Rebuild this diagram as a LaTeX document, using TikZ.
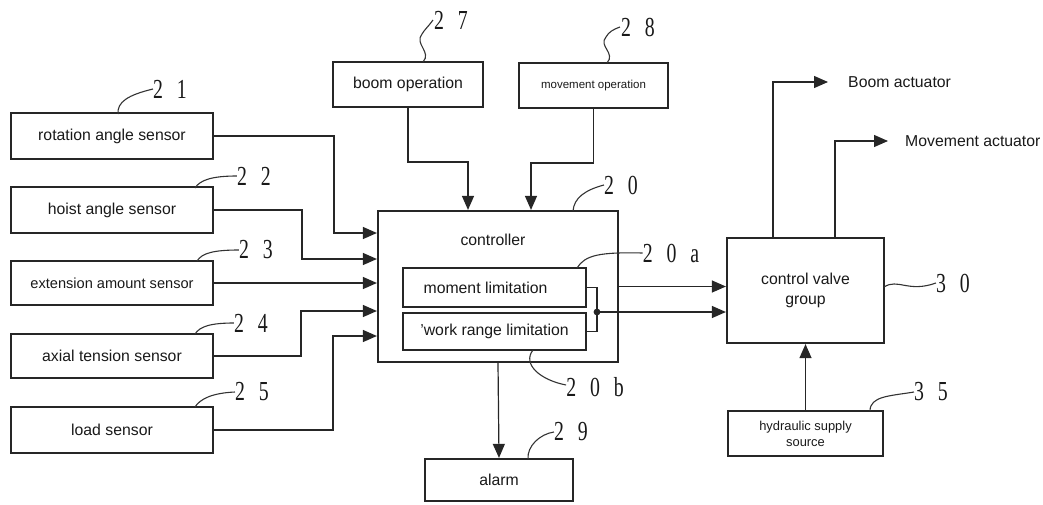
\documentclass[tikz,border=0pt]{standalone}
\usepackage{fontspec}
\setmainfont{Liberation Sans}
\newfontfamily\numfont{Liberation Serif}
\usetikzlibrary{arrows.meta}
\newcommand{\rn}[1]{\scalebox{0.72}[1]{#1}}
\tikzset{
  box/.style={draw=black!85, line width=2.2pt, inner sep=0pt, text=black!90,
    font=\fontsize{15.8}{18}\selectfont, align=center},
  inbox/.style={draw=black!85, line width=1.2pt, inner sep=0pt, text=black!90,
    font=\fontsize{15.8}{18}\selectfont},
  lab/.style={inner sep=0pt, text=black!90, font=\numfont\fontsize{27.5}{27.5}\selectfont},
  conn/.style={draw=black!85, line width=1.2pt},
  arr/.style={conn, -{Triangle[length=14pt,width=12pt]}},
  lead/.style={draw=black!80, line width=1.1pt},
  plain/.style={inner sep=0pt, text=black!90, font=\fontsize{15.8}{18}\selectfont}
}
\begin{document}
\begin{tikzpicture}[x=1pt,y=-1pt]
\useasboundingbox (0,0) rectangle (1043,504);
% sensors
\node[box, minimum width=202, minimum height=46] (s21) at (112,136) {rotation angle sensor};
\node[box, minimum width=202, minimum height=46] (s22) at (112,210) {hoist angle sensor};
\node[box, minimum width=202, minimum height=44, font=\fontsize{14.6}{17}\selectfont] (s23) at (112,283) {extension amount sensor};
\node[box, minimum width=202, minimum height=44] (s24) at (112,356) {axial tension sensor};
\node[box, minimum width=202, minimum height=46] (s25) at (112,430) {load sensor};
% operations
\node[box, minimum width=150, minimum height=45] (bop) at (408,84.5) {boom operation};
\node[box, minimum width=149, minimum height=45, font=\fontsize{11.5}{14}\selectfont] (mop) at (593.5,85.5) {movement operation};
% controller
\node[box, minimum width=240, minimum height=151] (ctrl) at (498,286.5) {};
\node[plain] (ctrltxt) at (493,240) {controller};
\node[inbox, minimum width=183, minimum height=39] (mom) at (494.5,287.5) {\hspace{-18pt}moment limitation};
\node[inbox, minimum width=183, minimum height=37] (work) at (494.5,331.5) {'work range limitation};
% valve
\node[box, minimum width=157, minimum height=105] (valve) at (805.5,290.5) {control valve\\[2pt]group};
\node[box, minimum width=155, minimum height=45, font=\fontsize{12.9}{16}\selectfont] (hyd) at (805.5,433.5) {hydraulic supply\\source};
\node[box, minimum width=148, minimum height=42] (alarm) at (499,480) {alarm};
\node[plain, anchor=west] (bact) at (848,82) {Boom actuator};
\node[plain, anchor=west] (mact) at (905,141) {Movement actuator};
% reference numerals
\node[lab] (l21) at (170,89) {\rn{2\hspace{0.7em}1}};
\node[lab] (l22) at (254,176) {\rn{2\hspace{0.7em}2}};
\node[lab] (l23) at (256,250) {\rn{2\hspace{0.7em}3}};
\node[lab] (l24) at (251,323) {\rn{2\hspace{0.7em}4}};
\node[lab] (l25) at (252,392) {\rn{2\hspace{0.7em}5}};
\node[lab] (l27) at (451,20) {\rn{2\hspace{0.7em}7}};
\node[lab] (l28) at (638,27) {\rn{2\hspace{0.7em}8}};
\node[lab] (l20) at (621,185) {\rn{2\hspace{0.7em}0}};
\node[lab] (l20a) at (671,253) {\rn{2\hspace{0.7em}0\hspace{0.7em}a}};
\node[lab] (l20b) at (595,387) {\rn{2\hspace{0.7em}0\hspace{0.7em}b}};
\node[lab] (l29) at (571,432) {\rn{2\hspace{0.7em}9}};
\node[lab] (l30) at (953,283) {\rn{3\hspace{0.7em}0}};
\node[lab] (l35) at (931,392) {\rn{3\hspace{0.7em}5}};
% bend coordinates
\coordinate (b21) at (334,233);
\coordinate (b22) at (302,259);
\coordinate (b24) at (301,311);
\coordinate (b25) at (333,336);
\coordinate (k1) at (468,162);
\coordinate (k2) at (531,163);
\coordinate (dot) at (597,312);
% sensor connectors
\draw[arr] (s21.east) -| (b21) -- (ctrl.west |- b21);
\draw[arr] (s22.east) -| (b22) -- (ctrl.west |- b22);
\draw[arr] (s23.east) -- (ctrl.west |- s23.east);
\draw[arr] (s24.east) -| (b24) -- (ctrl.west |- b24);
\draw[arr] (s25.east) -| (b25) -- (ctrl.west |- b25);
% operation connectors
\draw[arr] (bop.south) |- (k1) -- (k1 |- ctrl.north);
\draw[arr] (mop.south) |- (k2) -- (k2 |- ctrl.north);
% internal
\draw[conn] (mom.east) -| (dot) |- (work.east);
\fill[black!85] (dot) circle (3.4pt);
\draw[arr] (dot) -- (valve.west |- dot);
\draw[arr] (ctrl.east) -- (valve.west |- ctrl.east);
% outputs
\draw[arr] (valve.north -| 773,0) |- ([xshift=-20pt]bact.west);
\draw[arr] (valve.north -| 835,0) |- ([xshift=-17pt]mact.west);
\draw[arr] (hyd.north) -- (valve.south);
\draw[arr] (ctrl.south) -- (alarm.north);
% leaders
\draw[lead] (118,114) .. controls (117,102) and (128,95) .. (l21.west);
\draw[lead] (195,188) .. controls (200,180) and (212,176) .. (l22.west);
\draw[lead] (197,261) .. controls (202,253) and (214,250) .. (l23.west);
\draw[lead] (195,334) .. controls (200,326) and (212,323) .. (l24.west);
\draw[lead] (195,407) .. controls (200,399) and (212,393) .. (l25.west);
\draw[lead] (423,62) .. controls (432,52) and (414,44) .. (422,34) .. controls (425,29) and (428,27) .. ([xshift=-1pt]l27.west);
\draw[lead] (607,63) .. controls (616,53) and (598,46) .. (606,37) .. controls (609,32) and (612,30) .. ([xshift=-1pt]l28.west);
\draw[lead] (573,211) .. controls (574,198) and (585,190) .. (l20.west);
\draw[lead] (577,268) .. controls (585,255) and (600,252) .. (l20a.west);
\draw[lead] (533,350) .. controls (522,364) and (540,380) .. ([yshift=2pt]l20b.west);
\draw[lead] (528,459) .. controls (527,446) and (540,434) .. (l29.west);
\draw[lead] (884,287) .. controls (898,278) and (908,293) .. (l30.west);
\draw[lead] (870,411) .. controls (870,396) and (890,396) .. (l35.west);
\end{tikzpicture}
\end{document}
